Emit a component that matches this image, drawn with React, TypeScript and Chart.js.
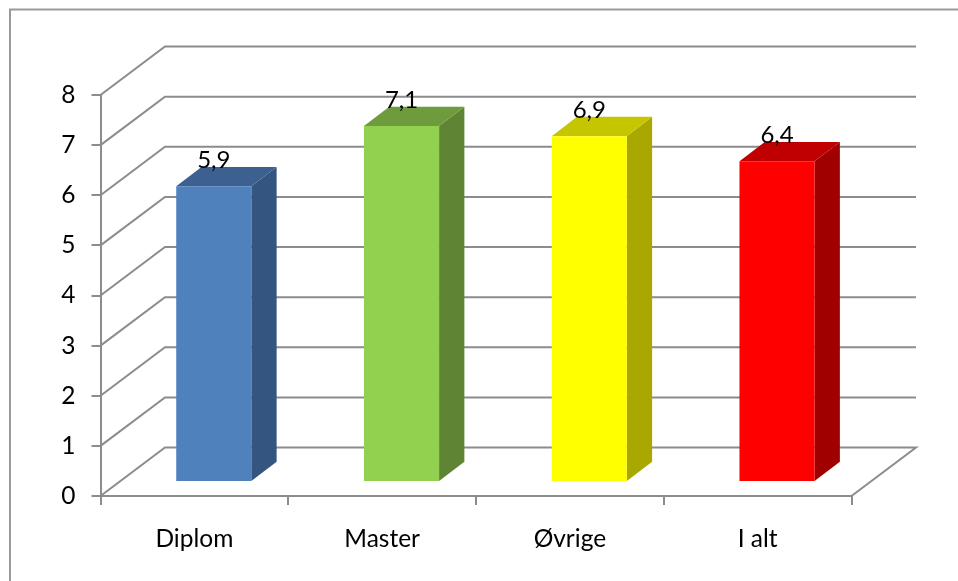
import React, { useEffect, useRef } from "react";
import { Chart, registerables } from "chart.js";

Chart.register(...registerables);

const categories = ["Diplom", "Master", "Øvrige", "I alt"];
const values = [5.9, 7.1, 6.9, 6.4];
const valueLabels = ["5,9", "7,1", "6,9", "6,4"];
const frontColors = ["#4F81BD", "#92D050", "#FFFF00", "#FF0000"];
const topColors = ["#3C6090", "#6E9C3C", "#C6C600", "#C00000"];
const sideColors = ["#34557F", "#5E8434", "#A8A800", "#A00000"];

const GRID = "#8C8C8C";
const FONT = "Lato";
const WALL_DX = 64.5;
const WALL_DY = -48.5;
const BAR_DX = 19.4;
const BAR_DY = -14;
const DEPTH_DX = 25.3;
const DEPTH_DY = -19.3;

const poly = (c: CanvasRenderingContext2D, pts: number[][], fill: string) => {
  c.beginPath();
  pts.forEach(([x, y], i) => (i ? c.lineTo(x, y) : c.moveTo(x, y)));
  c.closePath();
  c.fillStyle = fill;
  c.fill();
};

const plugin3d = {
  id: "plugin3d",
  beforeDraw(chart: any) {
    const c = chart.ctx;
    c.save();
    c.fillStyle = "#fff";
    c.fillRect(0, 0, chart.width, chart.height);
    c.strokeStyle = "#999";
    c.lineWidth = 2;
    c.beginPath();
    c.moveTo(10, chart.height);
    c.lineTo(10, 9.5);
    c.lineTo(chart.width, 9.5);
    c.stroke();
    c.restore();
  },
  beforeDatasetsDraw(chart: any) {
    const c = chart.ctx;
    const { left, right } = chart.chartArea;
    const ys = chart.scales.y;
    c.save();
    c.strokeStyle = GRID;
    c.lineWidth = 2;
    ys.ticks.forEach((t: any) => {
      const y = ys.getPixelForValue(t.value);
      c.beginPath();
      c.moveTo(left, y);
      c.lineTo(left + WALL_DX, y + WALL_DY);
      c.lineTo(right + WALL_DX, y + WALL_DY);
      if (t.value === 0) c.lineTo(right, y);
      c.stroke();
    });
    c.restore();
    // Side and top faces, then shift the library's own front faces.
    const meta = chart.getDatasetMeta(0);
    c.save();
    c.translate(BAR_DX, BAR_DY);
    meta.data.forEach((el: any, i: number) => {
      const p = el.getProps(["x", "y", "base", "width"], true);
      const l = p.x - p.width / 2;
      const r = p.x + p.width / 2;
      poly(c, [[r, p.y], [r + DEPTH_DX, p.y + DEPTH_DY], [r + DEPTH_DX, p.base + DEPTH_DY], [r, p.base]], sideColors[i]);
      poly(c, [[l, p.y], [l + DEPTH_DX, p.y + DEPTH_DY], [r + DEPTH_DX, p.y + DEPTH_DY], [r, p.y]], topColors[i]);
    });
    c.restore();
    c.save();
    c.translate(BAR_DX, BAR_DY);
  },
  afterDatasetsDraw(chart: any) {
    const c = chart.ctx;
    c.restore();
    const meta = chart.getDatasetMeta(0);
    c.save();
    c.fillStyle = "#000";
    c.font = `24px ${FONT}`;
    c.textAlign = "center";
    c.textBaseline = "alphabetic";
    meta.data.forEach((el: any, i: number) => {
      const p = el.getProps(["x", "y"], true);
      c.fillText(valueLabels[i], p.x + BAR_DX, p.y + BAR_DY - 18.5);
    });
    c.restore();
  },
};

export default function App() {
  const ref = useRef<HTMLCanvasElement>(null);
  useEffect(() => {
    const chart = new Chart(ref.current!, {
      type: "bar",
      data: {
        labels: categories,
        datasets: [{ data: values, backgroundColor: frontColors, borderWidth: 0, barPercentage: 0.4, categoryPercentage: 1 }],
      },
      plugins: [plugin3d],
      options: {
        animation: false,
        responsive: false,
        layout: { padding: { left: 0, top: 95, right: 106.5, bottom: 0 } },
        plugins: { legend: { display: false }, tooltip: { enabled: false } },
        scales: {
          x: {
            afterFit: (s: any) => { s.height = 85; },
            border: { color: GRID, width: 2 },
            grid: { color: GRID, lineWidth: 2, drawOnChartArea: false, tickLength: 9 },
            ticks: { color: "#000", font: { family: FONT, size: 24.5 }, padding: 19, maxRotation: 0 },
          },
          y: {
            min: 0,
            max: 8,
            afterFit: (s: any) => { s.width = 100.5; },
            border: { color: GRID, width: 2 },
            grid: { color: GRID, lineWidth: 2, drawOnChartArea: false, tickLength: 9 },
            ticks: { color: "#000", font: { family: FONT, size: 24.5 }, stepSize: 1, padding: 16 },
          },
        },
      } as any,
    });
    return () => chart.destroy();
  }, []);
  return <canvas ref={ref} width={958} height={581} style={{ position: "fixed", left: 0, top: 0, display: "block" }} />;
}
